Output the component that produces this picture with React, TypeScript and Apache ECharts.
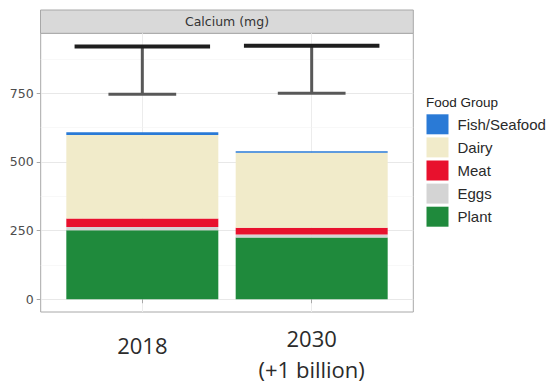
import React, { useEffect, useRef } from "react";
import * as echarts from "echarts";

// Years on the x axis (drawn at positions 1 and 2)
const yearLabels = ["2018", "2030\n(+1 billion)"];
const yearPositions = [1, 2];

// Calcium supply by food group (mg per person per day)
const plant = [251, 225];
const eggs = [12, 11];
const meat = [31, 24];
const dairy = [304, 273];
const fishSeafood = [10, 6];

// Requirement range: lower and upper bound per year
const rangeLow = [746, 750];
const rangeHigh = [920, 923];

const yTicks = [0, 250, 500, 750];
const yMinor = [125, 375, 625, 875];

const legendOrder = ["Fish/Seafood", "Dairy", "Meat", "Eggs", "Plant"];

const colors: Record<string, string> = {
  Plant: "#1f8a3c",
  Eggs: "#d4d4d4",
  Meat: "#e8112d",
  Dairy: "#f1ebca",
  "Fish/Seafood": "#2a7ad6",
};

const GRID = { left: 40.7, top: 33.3, width: 372.6, height: 278.7 };

export default function App() {
  const ref = useRef<HTMLDivElement>(null);

  useEffect(() => {
    if (!ref.current) return;
    const chart = echarts.init(ref.current, undefined, { renderer: "svg" });

    // Value first, position second, so the stack accumulates on the y value
    const stackSeries = [
      { name: "Plant", values: plant },
      { name: "Eggs", values: eggs },
      { name: "Meat", values: meat },
      { name: "Dairy", values: dairy },
      { name: "Fish/Seafood", values: fishSeafood },
    ].map((s) => ({
      name: s.name,
      type: "bar",
      stack: "total",
      barWidth: 152,
      itemStyle: { color: colors[s.name] },
      encode: { x: 1, y: 0 },
      data: s.values.map((v, i) => [v, yearPositions[i]]),
      z: 2,
    }));

    const option: any = {
      animation: false,
      backgroundColor: "#ffffff",
      grid: {
        ...GRID,
        show: true,
        borderColor: "#a8a8a8",
        borderWidth: 1,
        backgroundColor: "#ffffff",
      },
      title: {
        text: "Food Group",
        left: 426,
        top: 95,
        padding: 0,
        textStyle: {
          fontFamily: "Liberation Sans",
          fontSize: 13.5,
          fontWeight: "normal",
          color: "#222222",
        },
      },
      legend: {
        data: legendOrder,
        orient: "vertical",
        left: 426.5,
        top: 114.3,
        padding: 0,
        itemWidth: 22,
        itemHeight: 20,
        itemGap: 3.1,
        icon: "rect",
        selectedMode: false,
        formatter: "{t|{name}}",
        textStyle: {
          rich: {
            t: {
              fontFamily: "Liberation Sans",
              fontSize: 15,
              color: "#2a2a2a",
              padding: [0, 0, 0, 4],
            },
          },
        },
      },
      xAxis: {
        type: "value",
        min: 0.4,
        max: 2.6,
        axisLine: { show: false },
        axisTick: {
          show: true,
          customValues: yearPositions,
          length: 4,
          lineStyle: { color: "#a8a8a8" },
        },
        splitLine: { show: true, lineStyle: { color: "#ececec", width: 1 } },
        axisLabel: {
          customValues: yearPositions,
          margin: 10,
          verticalAlign: "top",
          formatter: (v: number) => {
            const idx = yearPositions.indexOf(v);
            const label = yearLabels[idx] ?? "";
            if (label.includes("\n")) {
              return label
                .split("\n")
                .map((l) => `{a|${l}}`)
                .join("\n");
            }
            return `{b|${label}}`;
          },
          rich: {
            a: {
              fontFamily: "Open Sans",
              fontSize: 22,
              lineHeight: 31,
              color: "#2b2b2b",
            },
            b: {
              fontFamily: "Open Sans",
              fontSize: 22,
              lineHeight: 31,
              color: "#2b2b2b",
              padding: [15, 0, 0, 0],
            },
          },
        },
      },
      yAxis: {
        type: "value",
        min: -46.5,
        max: 968,
        axisLine: { show: false },
        axisTick: {
          show: true,
          customValues: yTicks,
          length: 4,
          lineStyle: { color: "#a8a8a8" },
        },
        axisLabel: {
          customValues: yTicks,
          margin: 7,
          fontFamily: "DejaVu Sans",
          fontSize: 12.5,
          color: "#4d4d4d",
        },
        splitLine: { show: true, lineStyle: { color: "#e8e8e8", width: 1 } },
      },
      graphic: [
        {
          type: "rect",
          shape: { x: 40.5, y: 10, width: 372.8, height: 23.3 },
          style: { fill: "#d9d9d9", stroke: "#a8a8a8", lineWidth: 1 },
        },
        {
          type: "text",
          x: GRID.left + GRID.width / 2,
          y: 21.7,
          style: {
            text: "Calcium (mg)",
            fontFamily: "DejaVu Sans",
            fontSize: 12.5,
            fill: "#333333",
            align: "center",
            verticalAlign: "middle",
          },
        },
      ],
      series: [
        {
          name: "Minor grid",
          type: "line",
          data: [],
          silent: true,
          markLine: {
            z: 1,
            silent: true,
            symbol: "none",
            label: { show: false },
            lineStyle: { color: "#f3f3f3", width: 0.6, type: "solid" },
            data: yMinor.map((v) => ({ yAxis: v })),
          },
        },
        ...stackSeries,
        {
          name: "Requirement range",
          type: "custom",
          z: 5,
          data: yearPositions.map((x, i) => [x, rangeLow[i], rangeHigh[i]]),
          encode: { x: 0, y: [1, 2] },
          renderItem: (_params: any, api: any) => {
            const x = api.value(0);
            const lo = api.value(1);
            const hi = api.value(2);
            const top = api.coord([x, hi]);
            const bot = api.coord([x, lo]);
            const wTop = api.size([0.8, 0])[0];
            const wBot = api.size([0.4, 0])[0];
            return {
              type: "group",
              children: [
                {
                  type: "line",
                  shape: { x1: top[0], y1: top[1], x2: bot[0], y2: bot[1] },
                  style: { stroke: "#585858", lineWidth: 3 },
                },
                {
                  type: "line",
                  shape: {
                    x1: bot[0] - wBot / 2,
                    y1: bot[1],
                    x2: bot[0] + wBot / 2,
                    y2: bot[1],
                  },
                  style: { stroke: "#585858", lineWidth: 3 },
                },
                {
                  type: "line",
                  shape: {
                    x1: top[0] - wTop / 2,
                    y1: top[1],
                    x2: top[0] + wTop / 2,
                    y2: top[1],
                  },
                  style: { stroke: "#1e1e1e", lineWidth: 4 },
                },
              ],
            };
          },
        },
      ],
    };

    chart.setOption(option);
    return () => chart.dispose();
  }, []);

  return (
    <div
      ref={ref}
      style={{ position: "absolute", left: 0, top: 0, width: 557, height: 385 }}
    />
  );
}
